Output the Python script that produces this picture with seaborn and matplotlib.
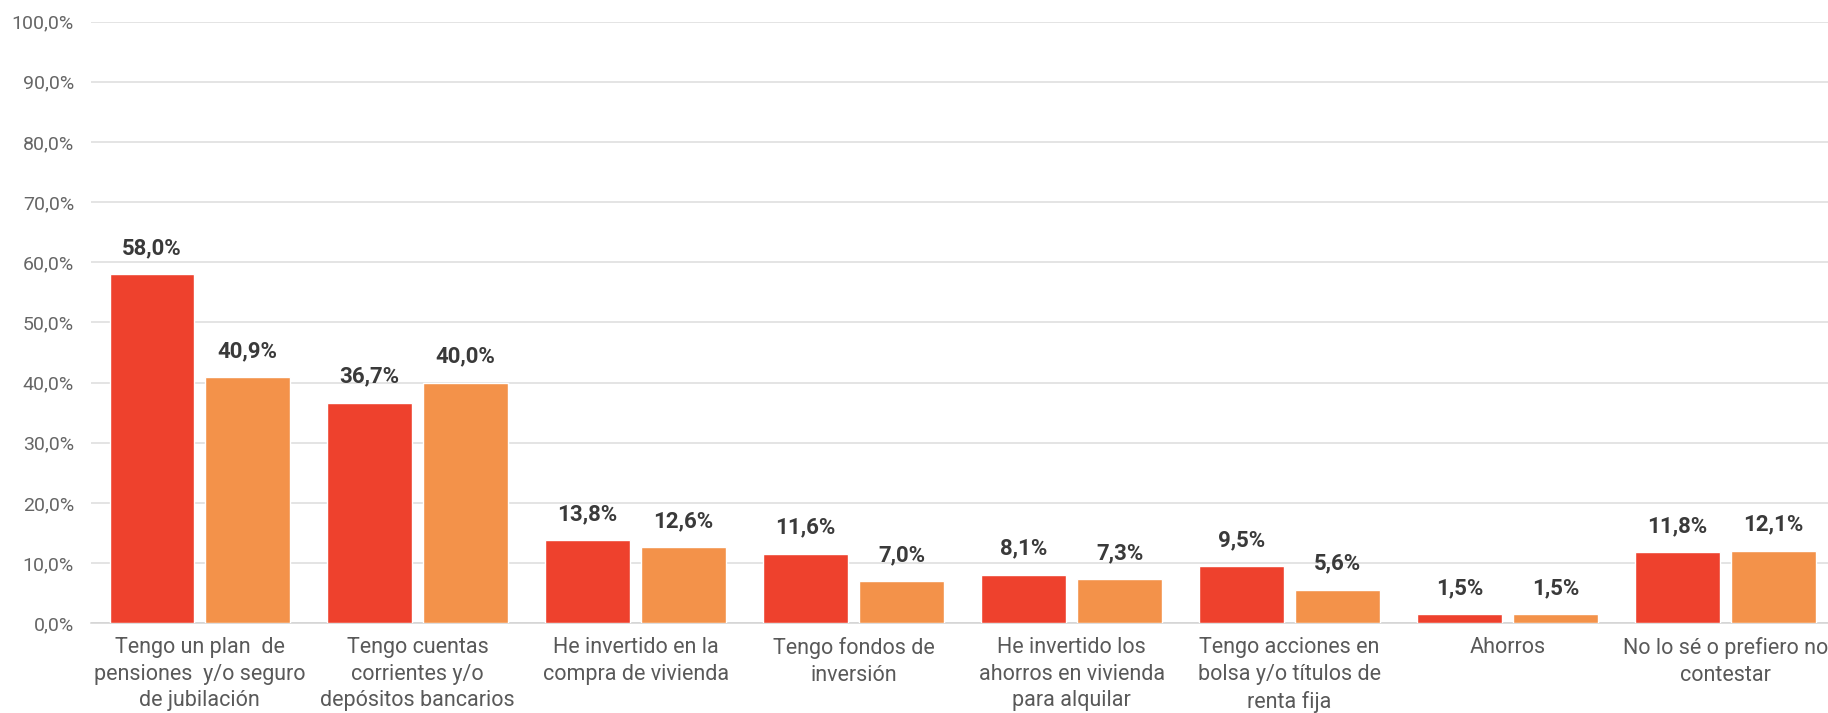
import matplotlib
matplotlib.use('Agg')
import matplotlib.pyplot as plt
import numpy as np
import pandas as pd
import seaborn as sns

# categories (x axis labels, line breaks as in the original)
categorias = [
    'Tengo un plan  de\npensiones  y/o seguro\nde jubilación',
    'Tengo cuentas\ncorrientes y/o\ndepósitos bancarios',
    'He invertido en la\ncompra de vivienda',
    'Tengo fondos de\ninversión',
    'He invertido los\nahorros en vivienda\npara alquilar',
    'Tengo acciones en\nbolsa y/o títulos de\nrenta fija',
    'Ahorros',
    'No lo sé o prefiero no\ncontestar',
]
serie_1 = [58.0, 36.7, 13.8, 11.6, 8.1, 9.5, 1.5, 11.8]
serie_2 = [40.9, 40.0, 12.6, 7.0, 7.3, 5.6, 1.5, 12.1]
series = ['Serie 1', 'Serie 2']
colores = ['#EE412D', '#F3924A']
y_ticks = [0, 10, 20, 30, 40, 50, 60, 70, 80, 90, 100]

df = pd.DataFrame({
    'categoria': categorias * 2,
    'serie': [series[0]] * len(categorias) + [series[1]] * len(categorias),
    'valor': serie_1 + serie_2,
})

sns.set_style('white')
plt.rcParams['font.family'] = ['Roboto', 'DejaVu Sans']

fig = plt.figure(figsize=(18.28, 7.13), dpi=100)
ax = fig.add_axes([0.0496, 0.1258, 0.954, 0.8438])

# saturation=1 so the colours are not washed out
sns.barplot(data=df, x='categoria', y='valor', hue='serie', order=categorias,
            hue_order=series, palette=dict(zip(series, colores)), saturation=1,
            width=0.88, gap=0.12, edgecolor='white', linewidth=1, legend=False,
            ax=ax, zorder=3)

def pct(v):
    return f'{v:.1f}%'.replace('.', ',')

for cont in ax.containers:
    ax.bar_label(cont, fmt=pct, padding=11, fontsize=16, fontweight='bold',
                 color='#3A3A3A')

ax.set_xlim(-0.5, len(categorias) - 0.5)
ax.set_ylim(0, 100)
ax.set_yticks(y_ticks)
ax.set_yticklabels([pct(v) for v in y_ticks])
ax.tick_params(axis='y', length=0, pad=12, labelsize=14, labelcolor='#666666')
ax.tick_params(axis='x', which='major', length=0, pad=10, labelsize=15.5,
               labelcolor='#595959')
ax.set_xticks(np.arange(-0.5, len(categorias), 1), minor=True)
ax.tick_params(axis='x', which='minor', length=3.5, width=1.1, color='#D3D3D3',
               direction='out')
for lab in ax.get_xticklabels():
    lab.set_linespacing(1.35)

ax.grid(axis='y', color='#DCDCDC', linewidth=1.1, zorder=0)
ax.set_axisbelow(True)
for s in ['top', 'right', 'left']:
    ax.spines[s].set_visible(False)
ax.spines['bottom'].set_color('#D3D3D3')
ax.spines['bottom'].set_linewidth(1.1)
ax.set_xlabel('')
ax.set_ylabel('')

fig.savefig('out.png', dpi=100)
